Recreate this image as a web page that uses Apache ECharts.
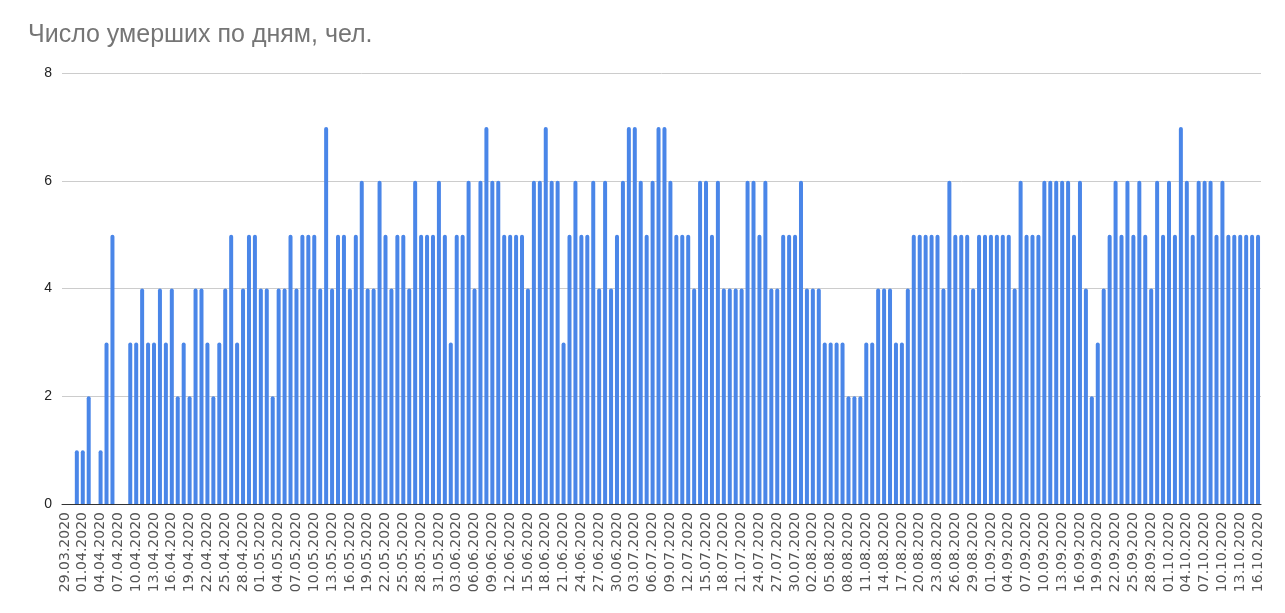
<!DOCTYPE html>
<html lang="ru">
<head>
    <meta charset="UTF-8">
    <title>Число умерших по дням</title>
    <script src="https://cdn.jsdelivr.net/npm/echarts@6/dist/echarts.min.js"></script>
    <style>
        html, body {margin: 0; padding: 0; background: #fff;}
        #main {width: 1285px; height: 613px;}
    </style>
</head>
<body>
    <div id="main"></div>
    <script>
        var title = 'Число умерших по дням, чел.';

        // dates, 29.03.2020 - 16.10.2020
        var dates = [
            '29.03.2020','30.03.2020','31.03.2020',
            '01.04.2020','02.04.2020','03.04.2020','04.04.2020','05.04.2020','06.04.2020','07.04.2020','08.04.2020','09.04.2020','10.04.2020',
            '11.04.2020','12.04.2020','13.04.2020','14.04.2020','15.04.2020','16.04.2020','17.04.2020','18.04.2020','19.04.2020','20.04.2020',
            '21.04.2020','22.04.2020','23.04.2020','24.04.2020','25.04.2020','26.04.2020','27.04.2020','28.04.2020','29.04.2020','30.04.2020',
            '01.05.2020','02.05.2020','03.05.2020','04.05.2020','05.05.2020','06.05.2020','07.05.2020','08.05.2020','09.05.2020','10.05.2020',
            '11.05.2020','12.05.2020','13.05.2020','14.05.2020','15.05.2020','16.05.2020','17.05.2020','18.05.2020','19.05.2020','20.05.2020',
            '21.05.2020','22.05.2020','23.05.2020','24.05.2020','25.05.2020','26.05.2020','27.05.2020','28.05.2020','29.05.2020','30.05.2020','31.05.2020',
            '01.06.2020','02.06.2020','03.06.2020','04.06.2020','05.06.2020','06.06.2020','07.06.2020','08.06.2020','09.06.2020','10.06.2020',
            '11.06.2020','12.06.2020','13.06.2020','14.06.2020','15.06.2020','16.06.2020','17.06.2020','18.06.2020','19.06.2020','20.06.2020',
            '21.06.2020','22.06.2020','23.06.2020','24.06.2020','25.06.2020','26.06.2020','27.06.2020','28.06.2020','29.06.2020','30.06.2020',
            '01.07.2020','02.07.2020','03.07.2020','04.07.2020','05.07.2020','06.07.2020','07.07.2020','08.07.2020','09.07.2020','10.07.2020',
            '11.07.2020','12.07.2020','13.07.2020','14.07.2020','15.07.2020','16.07.2020','17.07.2020','18.07.2020','19.07.2020','20.07.2020',
            '21.07.2020','22.07.2020','23.07.2020','24.07.2020','25.07.2020','26.07.2020','27.07.2020','28.07.2020','29.07.2020','30.07.2020','31.07.2020',
            '01.08.2020','02.08.2020','03.08.2020','04.08.2020','05.08.2020','06.08.2020','07.08.2020','08.08.2020','09.08.2020','10.08.2020',
            '11.08.2020','12.08.2020','13.08.2020','14.08.2020','15.08.2020','16.08.2020','17.08.2020','18.08.2020','19.08.2020','20.08.2020',
            '21.08.2020','22.08.2020','23.08.2020','24.08.2020','25.08.2020','26.08.2020','27.08.2020','28.08.2020','29.08.2020','30.08.2020','31.08.2020',
            '01.09.2020','02.09.2020','03.09.2020','04.09.2020','05.09.2020','06.09.2020','07.09.2020','08.09.2020','09.09.2020','10.09.2020',
            '11.09.2020','12.09.2020','13.09.2020','14.09.2020','15.09.2020','16.09.2020','17.09.2020','18.09.2020','19.09.2020','20.09.2020',
            '21.09.2020','22.09.2020','23.09.2020','24.09.2020','25.09.2020','26.09.2020','27.09.2020','28.09.2020','29.09.2020','30.09.2020',
            '01.10.2020','02.10.2020','03.10.2020','04.10.2020','05.10.2020','06.10.2020','07.10.2020','08.10.2020','09.10.2020','10.10.2020',
            '11.10.2020','12.10.2020','13.10.2020','14.10.2020','15.10.2020','16.10.2020'
        ];

        // deaths per day, by month
        var deathsMar = [0, 0, 1];
        var deathsApr = [1, 2, 0, 1, 3, 5, 0, 0, 3, 3, 4, 3, 3, 4, 3, 4, 2, 3, 2, 4, 4, 3, 2, 3, 4, 5, 3, 4, 5, 5];
        var deathsMay = [4, 4, 2, 4, 4, 5, 4, 5, 5, 5, 4, 7, 4, 5, 5, 4, 5, 6, 4, 4, 6, 5, 4, 5, 5, 4, 6, 5, 5, 5, 6];
        var deathsJun = [5, 3, 5, 5, 6, 4, 6, 7, 6, 6, 5, 5, 5, 5, 4, 6, 6, 7, 6, 6, 3, 5, 6, 5, 5, 6, 4, 6, 4, 5];
        var deathsJul = [6, 7, 7, 6, 5, 6, 7, 7, 6, 5, 5, 5, 4, 6, 6, 5, 6, 4, 4, 4, 4, 6, 6, 5, 6, 4, 4, 5, 5, 5, 6];
        var deathsAug = [4, 4, 4, 3, 3, 3, 3, 2, 2, 2, 3, 3, 4, 4, 4, 3, 3, 4, 5, 5, 5, 5, 5, 4, 6, 5, 5, 5, 4, 5, 5];
        var deathsSep = [5, 5, 5, 5, 4, 6, 5, 5, 5, 6, 6, 6, 6, 6, 5, 6, 4, 2, 3, 4, 5, 6, 5, 6, 5, 6, 5, 4, 6, 5];
        var deathsOct = [6, 5, 7, 6, 5, 6, 6, 6, 5, 6, 5, 5, 5, 5, 5, 5];

        var yTicks = [0, 2, 4, 6, 8];

        var deaths = [].concat(deathsMar, deathsApr, deathsMay, deathsJun, deathsJul, deathsAug, deathsSep, deathsOct);

        var myChart = echarts.init(document.getElementById('main'));
        var option = {
            animation: false,
            title: {
                text: title,
                left: 23,
                top: 18,
                textStyle: {
                    fontFamily: 'Liberation Sans',
                    fontSize: 25,
                    fontWeight: 'normal',
                    color: '#757575'
                }
            },
            grid: {
                left: 62,
                right: 24,
                top: 73,
                bottom: 109
            },
            xAxis: {
                type: 'category',
                data: dates,
                axisLine: {lineStyle: {color: '#333', width: 1}},
                axisTick: {show: false},
                axisLabel: {
                    interval: 2,
                    rotate: 90,
                    margin: 8,
                    fontFamily: 'DejaVu Sans',
                    fontSize: 14,
                    color: '#555'
                }
            },
            yAxis: {
                type: 'value',
                min: yTicks[0],
                max: yTicks[yTicks.length - 1],
                interval: 2,
                axisLine: {show: false},
                axisTick: {show: false},
                axisLabel: {
                    margin: 10,
                    fontFamily: 'Liberation Sans',
                    fontSize: 14,
                    color: '#222'
                },
                splitLine: {lineStyle: {color: '#cccccc'}}
            },
            series: [{
                name: 'умерших',
                type: 'bar',
                data: deaths,
                barWidth: 4,
                itemStyle: {
                    color: '#4a86e8',
                    borderRadius: [2, 2, 0, 0]
                }
            }]
        };
        myChart.setOption(option);
    </script>
</body>
</html>
